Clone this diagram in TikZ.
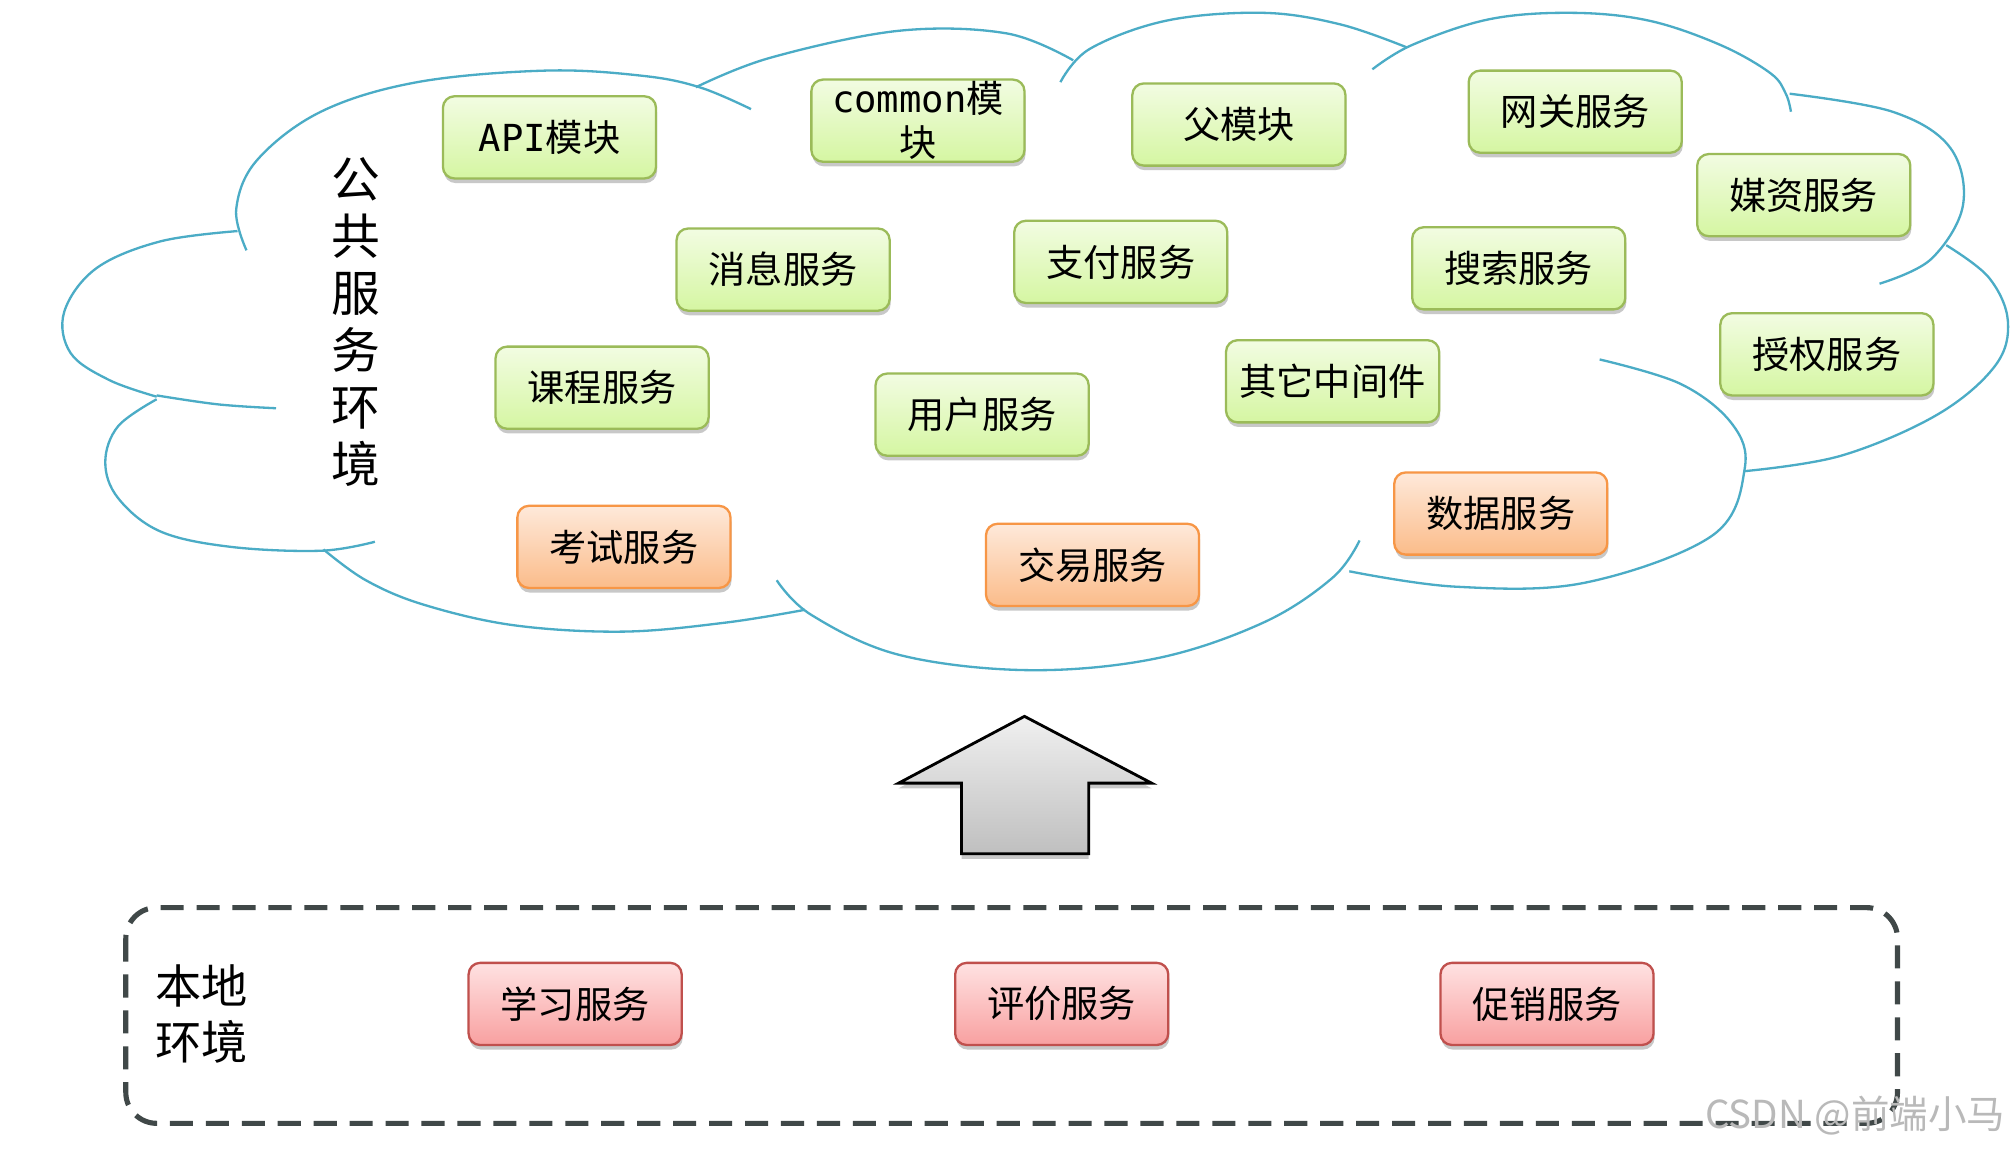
\documentclass[tikz,border=0pt]{standalone}
\usepackage{fontspec}
\setmainfont{Noto Sans CJK SC}
\newfontfamily\latinmono{DejaVu Sans Mono}
\usetikzlibrary{shadows}
\definecolor{cloudblue}{HTML}{4BACC6}
\definecolor{grnborder}{HTML}{9BBB59}
\definecolor{grntop}{HTML}{F2FCE2}
\definecolor{grnbot}{HTML}{D5F6A2}
\definecolor{orgborder}{HTML}{F79646}
\definecolor{orgtop}{HTML}{FEE9DA}
\definecolor{orgbot}{HTML}{FBBC8A}
\definecolor{redborder}{HTML}{C0504D}
\definecolor{redtop}{HTML}{FFE2E2}
\definecolor{redbot}{HTML}{F8A0A0}
\definecolor{dashgray}{HTML}{404848}
\tikzset{
  svcbox/.style={rounded corners=4.5pt, minimum width=83pt, minimum height=32pt,
    line width=0.9pt, inner sep=0pt, align=center,
    font=\fontsize{14.5}{17}\selectfont,
    drop shadow={shadow xshift=0.4pt, shadow yshift=-1.8pt, opacity=0.3, fill=black!70}},
  greenbox/.style={svcbox, draw=grnborder, top color=grntop, bottom color=grnbot},
  orangebox/.style={svcbox, draw=orgborder, top color=orgtop, bottom color=orgbot},
  redbox/.style={svcbox, draw=redborder, top color=redtop, bottom color=redbot},
  lobe/.style={draw=cloudblue, line width=0.9pt, smooth, tension=0.6},
  bigarrow/.style={draw=black, line width=1.1pt, top color=gray!12, bottom color=gray!50,
    drop shadow={shadow xshift=0pt, shadow yshift=-2pt, opacity=0.3, fill=black!70}},
  dashbox/.style={draw=dashgray, line width=2pt, dash pattern=on 9pt off 5pt, rounded corners=12pt},
  labeltext/.style={inner sep=0pt, align=center}
}
\begin{document}
\begin{tikzpicture}[x=0.5pt,y=-0.5pt]
\useasboundingbox (0,0) rectangle (1568,897);
\fill[white] (0,0) rectangle (1568,897);

% cloud lobes
\draw[lobe] plot coordinates {(192,195) (184,163) (200,125) (250,87) (325,64) (425,55) (500,59) (545,68) (585,85)};
\draw[lobe] plot coordinates {(185,180) (125,188) (75,209) (50,243) (55,275) (85,296) (122,309)};
\draw[lobe] plot coordinates {(122,308) (170,315) (215,318)};
\draw[lobe] plot coordinates {(122,311) (92,332) (82,360) (92,388) (125,414) (180,426) (250,429) (292,422)};
\draw[lobe] plot coordinates {(252,428) (285,452) (330,471) (400,487) (485,492) (565,485) (627,475)};
\draw[lobe] plot coordinates {(605,452) (632,479) (700,510) (800,522) (900,513) (984,485) (1038,450) (1059,421)};
\draw[lobe] plot coordinates {(1051,445) (1134,457) (1234,454) (1334,417) (1359,365) (1349,330) (1309,299) (1246,280)};
\draw[lobe] plot coordinates {(1359,367) (1434,355) (1509,323) (1554,285) (1564,250) (1549,216) (1516,191)};
\draw[lobe] plot coordinates {(1464,221) (1504,202) (1529,160) (1519,115) (1474,87) (1394,73)};
\draw[lobe] plot coordinates {(1069,54) (1100,35) (1160,15) (1224,10) (1284,16) (1340,35) (1379,57) (1391,73) (1395,87)};
\draw[lobe] plot coordinates {(826,64) (849,38) (909,16) (984,10) (1044,19) (1096,37)};
\draw[lobe] plot coordinates {(542,68) (600,45) (700,24) (784,26) (836,47)};

% cloud label
\node[labeltext, font=\fontsize{19}{22.2}\selectfont] (pubenv) at (277,251) {公\\共\\服\\务\\环\\境};

% green boxes
\node[greenbox] (api) at (428,107) {{\latinmono API}模块};
\node[greenbox, font=\fontsize{14.5}{17}\selectfont] (common) at (715,94) {{\latinmono common}模\\块};
\node[greenbox] (parent) at (965,97) {父模块};
\node[greenbox] (gateway) at (1227,87) {网关服务};
\node[greenbox] (media) at (1405,152) {媒资服务};
\node[greenbox] (msg) at (610,210) {消息服务};
\node[greenbox] (pay) at (873,204) {支付服务};
\node[greenbox] (search) at (1183,209) {搜索服务};
\node[greenbox] (auth) at (1423,276) {授权服务};
\node[greenbox] (course) at (469,302) {课程服务};
\node[greenbox] (user) at (765,323) {用户服务};
\node[greenbox] (middleware) at (1038,297) {其它中间件};

% orange boxes
\node[orangebox] (exam) at (486,426) {考试服务};
\node[orangebox] (trade) at (851,440) {交易服务};
\node[orangebox] (data) at (1169,400) {数据服务};

% arrow
\draw[bigarrow] (798,558) -- (897,610) -- (848,610) -- (848,665) -- (749,665) -- (749,610) -- (700,610) -- cycle;

% local environment
\draw[dashbox] (98,707) rectangle (1478,875);
\node[labeltext, font=\fontsize{18}{22}\selectfont] (localenv) at (157,790) {本地\\环境};
\node[redbox] (study) at (448,782) {学习服务};
\node[redbox] (review) at (827,782) {评价服务};
\node[redbox] (promo) at (1205,782) {促销服务};

% watermark
\node[text=gray!55, inner sep=0pt, font=\fontsize{15}{15}\selectfont] (wm) at (1445,869) {CSDN @前端小马};
\end{tikzpicture}
\end{document}
